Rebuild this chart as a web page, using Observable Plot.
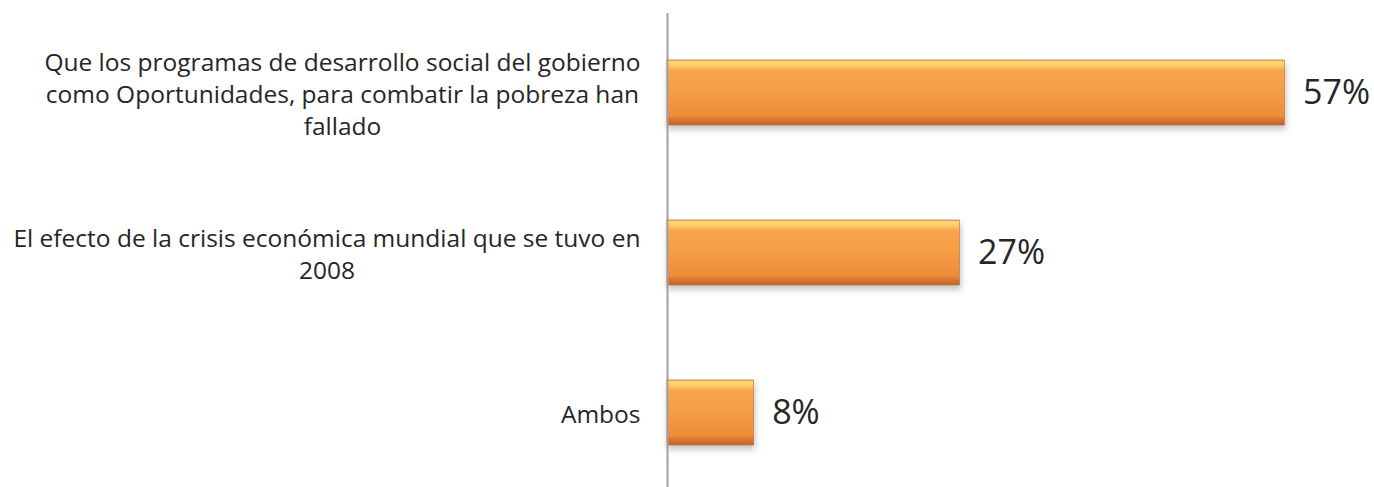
<!DOCTYPE html>
<html>
<head>
<meta charset="utf-8">
<script src="https://cdn.jsdelivr.net/npm/d3@7"></script>
<script src="https://cdn.jsdelivr.net/npm/@observablehq/plot@0.6"></script>
<style>
  html, body { margin: 0; padding: 0; background: #ffffff; }
  #chart svg { display: block; }
</style>
</head>
<body>
<div id="chart"></div>
<script>
const categories = [
  "Que los programas de desarrollo social del gobierno\ncomo Oportunidades, para combatir la pobreza han\nfallado",
  "El efecto de la crisis económica mundial que se tuvo en\n2008",
  "Ambos"
];
const values = [57, 27, 8];
const valueLabels = ["57%", "27%", "8%"];

const W = 1374, H = 487;
const marginLeft = 667, marginRight = 57;
const xMax = 60;
const k = (W - marginLeft - marginRight) / xMax;
const catSize = 24.5;
const ctx = document.createElement("canvas").getContext("2d");
ctx.font = catSize + "px 'Open Sans'";

const data = categories.map((c, i) => {
  const w = d3.max(c.split("\n"), l => ctx.measureText(l).width);
  return {cat: c, value: values[i], label: valueLabels[i], xc: -(27 + w / 2) / k};
});

const plot = Plot.plot({
  width: W,
  height: H,
  marginLeft,
  marginRight,
  marginTop: 13,
  marginBottom: 0,
  x: {domain: [0, xMax], axis: null},
  y: {domain: categories, range: [12.5, 492.5], padding: 0.594, paddingOuter: 0.297, axis: null},
  style: {fontFamily: "'Open Sans', sans-serif", background: "#ffffff"},
  marks: [
    Plot.barX(data, {x: "value", y: "cat", fill: "url(#barGrad)", stroke: "#c4702c", strokeWidth: 0.6}),
    Plot.ruleX([0], {stroke: "#a0a0a0", strokeWidth: 2}),
    Plot.text(data, {x: "value", y: "cat", text: "label", dx: 18, textAnchor: "start", fontSize: 34, fill: "#262626"}),
    Plot.text(data, {x: "xc", y: "cat", text: "cat", textAnchor: "middle", lineHeight: 32 / catSize, fontSize: catSize, fill: "#262626"})
  ]
});

const svg = d3.select(plot);
const defs = svg.insert("defs", ":first-child");
const g = defs.append("linearGradient").attr("id", "barGrad").attr("x1", 0).attr("y1", 0).attr("x2", 0).attr("y2", 1);
[[0, "#f2a24c"], [0.03, "#fddb78"], [0.1, "#fbc466"], [0.16, "#f6a64a"], [0.5, "#f59d44"], [0.86, "#ec8d39"], [0.92, "#d7772f"], [1, "#b9662e"]]
  .forEach(([o, c]) => g.append("stop").attr("offset", o).attr("stop-color", c));
const f = defs.append("filter").attr("id", "shadow").attr("x", "-5%").attr("y", "-10%").attr("width", "115%").attr("height", "140%");
f.append("feDropShadow").attr("dx", 1).attr("dy", 4).attr("stdDeviation", 3).attr("flood-color", "#808080").attr("flood-opacity", 0.5);
svg.selectAll("rect").attr("filter", "url(#shadow)");

document.getElementById("chart").appendChild(plot);
</script>
</body>
</html>
